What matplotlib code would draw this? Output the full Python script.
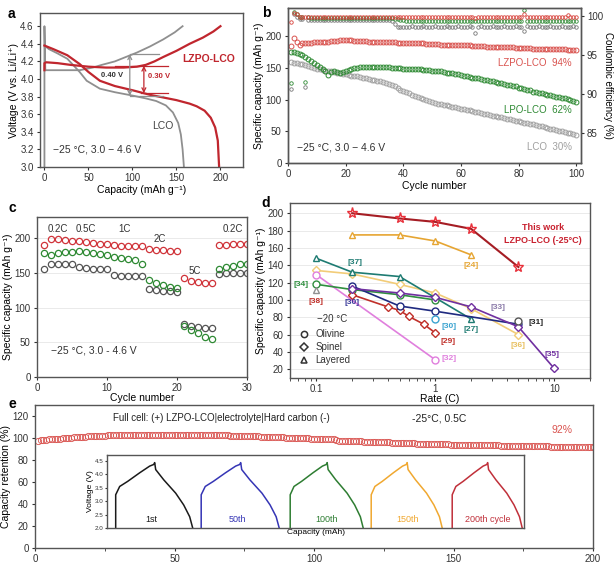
import matplotlib.pyplot as plt
import numpy as np

plt.rcParams['font.family'] = ['Liberation Sans', 'DejaVu Sans']
plt.rcParams['font.size'] = 7
plt.rcParams['axes.edgecolor'] = '#555555'
plt.rcParams['axes.linewidth'] = 1.0
plt.rcParams['xtick.major.size'] = 2.5
plt.rcParams['ytick.major.size'] = 2.5
plt.rcParams['xtick.major.pad'] = 2
plt.rcParams['ytick.major.pad'] = 2
plt.rcParams['xtick.color'] = '#333333'
plt.rcParams['ytick.color'] = '#333333'

RED = '#c0262e'
GREEN = '#2f8a34'
GRAY = '#8f8f8f'

# ---------------- panel a: voltage profiles ----------------
lco_chg_cap = [0, 0, 1, 10, 25, 40, 45, 55, 65, 80, 95, 105, 120, 135, 148, 157]
lco_chg_v = [3.0, 4.6, 4.1, 4.1, 4.1, 4.1, 4.11, 4.13, 4.16, 4.2, 4.26, 4.3, 4.37, 4.45, 4.53, 4.6]
lco_dis_cap = [0, 5, 15, 26, 40, 48, 63, 80, 101, 115, 127, 138, 146, 152, 155, 157, 158.5]
lco_dis_v = [4.38, 4.34, 4.29, 4.23, 4.08, 3.98, 3.89, 3.85, 3.81, 3.78, 3.75, 3.70, 3.62, 3.5, 3.37, 3.2, 3.0]
lzpo_chg_cap = [0, 0, 2, 15, 30, 50, 70, 90, 105, 115, 125, 135, 150, 165, 180, 192, 200]
lzpo_chg_v = [4.1, 4.18, 4.19, 4.18, 4.16, 4.14, 4.13, 4.13, 4.14, 4.16, 4.2, 4.25, 4.32, 4.4, 4.47, 4.54, 4.6]
lzpo_dis_cap = [0, 10, 26, 40, 50, 63, 80, 101, 120, 135, 150, 165, 173, 182, 189, 194, 197, 198, 198.5]
lzpo_dis_v = [4.38, 4.34, 4.27, 4.17, 4.08, 3.98, 3.92, 3.87, 3.82, 3.79, 3.76, 3.72, 3.69, 3.64, 3.56, 3.45, 3.3, 3.1, 3.0]

# ---------------- panel b: cycling ----------------
cycles_b = list(range(1, 101))
cap_lzpo = [185, 198, 191, 187, 189, 190, 190, 190, 191, 191,
            191, 192, 192, 192, 193, 193, 193, 194, 194, 194,
            194, 194, 193, 193, 193, 193, 193, 192, 192, 192,
            192, 192, 191, 191, 191, 191, 191, 190, 190, 190,
            190, 190, 189, 189, 189, 189, 189, 188, 188, 188,
            188, 188, 187, 187, 187, 187, 187, 186, 186, 186,
            186, 186, 186, 185, 185, 185, 185, 185, 184, 184,
            184, 184, 184, 183, 183, 183, 183, 183, 182, 182,
            182, 182, 182, 182, 181, 181, 181, 181, 181, 181,
            180, 180, 180, 180, 180, 180, 179, 179, 179, 179]
cap_lpo = [175, 176, 174, 172, 170, 168, 165, 161, 158, 155,
           152, 149, 145, 139, 144, 146, 144, 143, 144, 145,
           147, 149, 150, 150, 151, 151, 152, 152, 152, 152,
           152, 152, 151, 151, 151, 150, 150, 150, 150, 149,
           149, 149, 149, 148, 148, 148, 147, 147, 147, 146,
           146, 145, 145, 144, 143, 143, 142, 141, 140, 139,
           138, 137, 136, 135, 135, 134, 133, 132, 131, 130,
           129, 128, 127, 126, 125, 124, 123, 122, 121, 119,
           118, 117, 116, 115, 113, 112, 111, 110, 109, 108,
           107, 106, 105, 104, 103, 102, 101, 100, 98, 97]
cap_lco = [160, 158, 158, 157, 156, 155, 154, 152, 150, 149,
           148, 147, 146, 145, 145, 144, 143, 142, 141, 140,
           139, 138, 138, 137, 136, 135, 134, 133, 132, 131,
           130, 129, 128, 127, 125, 123, 121, 119, 116, 114,
           112, 110, 108, 106, 104, 102, 101, 99, 98, 96,
           95, 94, 93, 92, 91, 90, 89, 88, 87, 86,
           85, 84, 83, 82, 81, 80, 79, 78, 77, 76,
           75, 74, 73, 72, 71, 70, 69, 68, 67, 66,
           65, 64, 63, 62, 61, 60, 59, 58, 57, 56,
           54, 53, 52, 51, 50, 49, 48, 47, 46, 45]
ce_lzpo = [99.2, 100.4, 100.3, 99.9, 99.8, 99.9, 99.8, 99.8, 99.9, 99.8,
           99.8, 99.9, 99.8, 99.8, 99.9, 99.8, 99.8, 99.9, 99.8, 99.8,
           99.9, 99.8, 99.8, 99.9, 99.8, 99.8, 99.9, 99.8, 99.8, 99.9,
           99.8, 99.8, 99.9, 99.8, 99.8, 99.9, 99.8, 99.8, 99.9, 99.8,
           99.8, 99.9, 99.8, 99.8, 99.9, 99.8, 99.8, 99.9, 99.8, 99.8,
           99.9, 99.8, 99.8, 99.9, 99.8, 99.8, 99.9, 99.8, 99.8, 99.9,
           99.8, 99.8, 99.9, 99.8, 99.7, 99.9, 99.8, 99.8, 99.9, 99.8,
           99.8, 99.9, 99.8, 99.8, 99.9, 99.8, 99.8, 99.9, 99.8, 99.8,
           99.9, 100.3, 99.8, 99.9, 99.8, 99.8, 99.9, 99.8, 99.8, 99.9,
           99.8, 99.8, 99.9, 99.8, 99.8, 99.9, 100.1, 99.9, 99.8, 99.8]
ce_lpo = [91.4, 100.5, 100.3, 99.9, 99.8, 91.6, 99.8, 99.7, 99.7, 99.7,
          99.7, 99.7, 99.7, 99.7, 99.7, 99.7, 99.7, 99.7, 99.7, 99.7,
          99.7, 99.7, 99.7, 99.7, 99.7, 99.7, 99.7, 99.7, 99.7, 99.7,
          99.7, 99.7, 99.7, 99.7, 99.7, 99.7, 99.6, 99.6, 99.5, 99.5,
          99.4, 99.4, 99.4, 99.4, 99.4, 99.4, 99.4, 99.4, 99.4, 99.4,
          99.4, 99.4, 99.4, 99.4, 99.4, 99.4, 99.4, 99.4, 99.4, 99.4,
          99.4, 99.4, 99.4, 99.4, 99.4, 99.4, 99.4, 99.4, 99.4, 99.4,
          99.4, 99.4, 99.4, 99.4, 99.4, 99.4, 99.4, 99.4, 99.4, 99.4,
          99.4, 100.7, 99.4, 99.4, 99.4, 99.4, 99.4, 99.4, 99.4, 99.4,
          99.4, 99.4, 99.4, 99.4, 99.4, 99.4, 99.4, 99.4, 99.4, 99.4]
ce_lco = [90.6, 100.2, 99.9, 99.6, 99.6, 90.9, 99.5, 99.5, 99.5, 99.5,
          99.5, 99.5, 99.5, 99.5, 99.5, 99.5, 99.5, 99.5, 99.5, 99.5,
          99.5, 99.5, 99.5, 99.5, 99.5, 99.5, 99.5, 99.5, 99.5, 99.5,
          99.5, 99.5, 99.5, 99.5, 99.5, 99.4, 99.0, 98.6, 98.6, 98.6,
          98.6, 98.6, 98.7, 98.6, 98.6, 98.6, 98.7, 98.6, 98.6, 98.6,
          98.7, 98.6, 98.6, 98.6, 98.7, 98.6, 98.6, 98.6, 98.7, 98.6,
          98.6, 98.6, 98.7, 98.6, 97.8, 98.6, 98.7, 98.6, 98.6, 98.6,
          98.7, 98.6, 98.6, 98.6, 98.7, 98.6, 98.6, 98.6, 98.7, 98.6,
          98.6, 98.1, 98.7, 98.6, 98.6, 98.6, 98.7, 98.6, 98.6, 98.6,
          98.7, 98.6, 98.6, 98.6, 98.7, 98.6, 98.6, 98.6, 98.7, 98.6]

# ---------------- panel c: rate test ----------------
cycles_c = list(range(1, 31))
rate_lzpo = [190, 198, 198, 197, 196, 195, 194, 193, 192, 191,
             190, 189, 189, 188, 188, 184, 182, 182, 181, 181,
             142, 138, 136, 135, 135, 190, 190, 191, 191, 192]
rate_lpo = [178, 176, 178, 180, 180, 181, 180, 178, 177, 176,
            172, 171, 170, 168, 162, 140, 135, 132, 130, 128,
            74, 68, 63, 58, 55, 156, 158, 160, 162, 163]
rate_lco = [156, 162, 162, 162, 163, 158, 157, 156, 156, 155,
            147, 146, 145, 145, 145, 126, 125, 124, 124, 123,
            76, 73, 72, 71, 70, 148, 149, 149, 150, 150]
rate_names = ['0.2C', '0.5C', '1C', '2C', '5C', '0.2C']

# ---------------- panel d: comparison ----------------
work_rate = [0.2, 0.5, 1, 2, 5]
work_cap = [200, 194, 190, 182, 138]
ref24_rate = [0.2, 0.5, 1, 2]
ref24_cap = [175, 175, 168, 152]
ref37_rate = [0.1, 0.2, 0.5, 2]
ref37_cap = [148, 132, 127, 78]
ref36_rate = [0.1, 0.2, 0.5, 1, 2, 5]
ref36_cap = [134, 130, 118, 108, 90, 60]
ref34_rate = [0.1, 0.2, 0.5, 1]
ref34_cap = [118, 112, 106, 100]
ref32_rate = [0.1, 1]
ref32_cap = [129, 31]
ref29_rate = [0.2, 0.4, 0.5, 0.6, 0.8, 1]
ref29_cap = [106, 92, 88, 81, 72, 62]
ref30n_rate = [0.2, 0.5, 1, 5]
ref30n_cap = [116, 93, 87, 72]
ref35_rate = [0.2, 0.5, 1, 2, 5, 10]
ref35_cap = [113, 108, 103, 92, 69, 21]
ref31_rate = [5]
ref31_cap = [76]
ref30c_rate = [1]
ref30c_cap = [78]
ref38_rate = [0.1]
ref38_cap = [112]

# ---------------- panel e: full cell ----------------
cycles_e = list(range(1, 201))
retention = [97.5, 98.0, 98.3, 98.6, 98.8, 99.0, 99.2, 99.4, 99.6, 99.8,
             100.0, 100.2, 100.4, 100.6, 100.8, 101.0, 101.2, 101.4, 101.5, 101.7,
             101.8, 102.0, 102.1, 102.2, 102.3, 102.4, 102.5, 102.6, 102.7, 102.8,
             102.8, 102.9, 102.9, 103.0, 103.0, 103.0, 103.1, 103.1, 103.1, 103.1,
             103.2, 103.2, 103.2, 103.2, 103.2, 103.2, 103.2, 103.2, 103.2, 103.1,
             103.1, 103.1, 103.1, 103.1, 103.0, 103.0, 103.0, 102.9, 102.9, 102.9,
             102.8, 102.8, 102.7, 102.7, 102.6, 102.6, 102.5, 102.5, 102.4, 102.3,
             102.3, 102.2, 102.1, 102.0, 102.0, 101.9, 101.8, 101.7, 101.6, 101.5,
             101.4, 101.3, 101.2, 101.1, 101.0, 100.9, 100.8, 100.7, 100.6, 100.5,
             100.4, 100.3, 100.2, 100.1, 100.0, 99.9, 99.8, 99.7, 99.6, 99.5,
             99.4, 99.3, 99.2, 99.1, 99.0, 98.9, 98.8, 98.0, 97.8, 97.7,
             97.6, 97.5, 97.4, 97.3, 97.2, 97.1, 97.0, 96.9, 96.8, 96.7,
             96.6, 96.5, 96.4, 96.3, 96.2, 96.1, 96.0, 95.9, 95.8, 95.7,
             95.6, 95.5, 95.4, 95.3, 95.2, 95.1, 95.0, 94.9, 94.8, 94.7,
             94.6, 94.5, 94.4, 94.4, 94.3, 94.3, 94.2, 94.2, 94.1, 94.1,
             94.0, 94.0, 93.9, 93.9, 93.8, 93.8, 93.7, 93.7, 93.6, 93.6,
             93.5, 93.5, 93.4, 93.4, 93.3, 93.3, 93.2, 93.2, 93.1, 93.1,
             93.0, 93.0, 92.9, 92.9, 92.8, 92.8, 92.7, 92.7, 92.6, 92.6,
             92.5, 92.5, 92.4, 92.4, 92.3, 92.3, 92.2, 92.2, 92.1, 92.1,
             92.0, 92.0, 92.0, 92.0, 91.9, 91.9, 91.9, 91.9, 91.8, 91.8]

# inset: one charge/discharge profile (relative capacity, voltage) for each cycle
profile_cap = [0, 0, 4, 12, 24, 34, 38, 39, 40, 48, 60, 68, 74, 77]
profile_v = [2.0, 3.24, 3.55, 3.74, 4.06, 4.31, 4.37, 4.44, 4.18, 3.8, 3.3, 2.86, 2.42, 2.0]
inset_names = ['1st', '50th', '100th', '150th', '200th cycle']
inset_start = [8.5, 94, 183, 264, 345]
inset_width = [77, 78, 73, 71, 70]
inset_colors = ['#1a1a1a', '#3535b5', '#2e7d32', '#f0a830', '#c0303a']

fig = plt.figure(figsize=(6.16, 5.65), dpi=100)

# ======== a ========
ax = fig.add_axes([0.065, 0.7044, 0.33, 0.2726])
ax.plot(lco_chg_cap, lco_chg_v, color=GRAY, lw=1.3)
ax.plot(lco_dis_cap, lco_dis_v, color=GRAY, lw=1.3)
ax.plot(lzpo_chg_cap, lzpo_chg_v, color=RED, lw=1.6)
ax.plot(lzpo_dis_cap, lzpo_dis_v, color=RED, lw=1.6)
ax.plot([97, 130], [4.28, 4.28], color=GRAY, lw=0.9)
ax.plot([97, 135], [3.81, 3.81], color=GRAY, lw=0.9)
ax.annotate('', xy=(97, 3.81), xytext=(97, 4.28),
            arrowprops=dict(arrowstyle='<->', color=GRAY, lw=0.9, shrinkA=0, shrinkB=0))
ax.plot([80, 140], [4.15, 4.15], color=RED, lw=0.9)
ax.plot([110, 140], [3.84, 3.84], color=RED, lw=0.9)
ax.annotate('', xy=(113, 3.84), xytext=(113, 4.15),
            arrowprops=dict(arrowstyle='<->', color=RED, lw=0.9, shrinkA=0, shrinkB=0))
ax.text(77, 4.04, '0.40 V', fontsize=5.5, fontweight='bold', color='#333333', ha='center', va='center')
ax.text(130, 4.03, '0.30 V', fontsize=5.5, fontweight='bold', color=RED, ha='center', va='center')
ax.text(187, 4.23, 'LZPO-LCO', fontsize=7.5, fontweight='bold', color=RED, ha='center', va='center')
ax.text(134, 3.47, 'LCO', fontsize=7.5, color='#444444', ha='center', va='center')
ax.text(10, 3.2, '−25 °C, 3.0 − 4.6 V', fontsize=7.5, color='#333333', va='center')
ax.set_xlim(-5, 226)
ax.set_ylim(3.0, 4.75)
ax.set_xticks([0, 50, 100, 150, 200])
ax.set_yticks(np.arange(3.0, 4.61, 0.2))
ax.set_yticklabels(['%.1f' % v for v in np.arange(3.0, 4.61, 0.2)])
ax.set_xlabel('Capacity (mAh g⁻¹)', fontsize=7.5, labelpad=1)
ax.set_ylabel('Voltage (V vs. Li/Li⁺)', fontsize=7.5, labelpad=1)
fig.text(0.013, 0.975, 'a', fontsize=10, fontweight='bold', va='center')

# ======== b ========
ax = fig.add_axes([0.4675, 0.7115, 0.475, 0.2743])
ax2 = ax.twinx()
ax2.plot(cycles_b, ce_lco, 'o', ms=2.5, mfc='none', mec='#777777', mew=0.6)
ax2.plot(cycles_b, ce_lpo, 'o', ms=2.5, mfc='none', mec=GREEN, mew=0.6)
ax2.plot(cycles_b, ce_lzpo, 'o', ms=2.5, mfc='none', mec='#d8403a', mew=0.6)
ax2.set_ylim(81.2, 101)
ax2.set_yticks([85, 90, 95, 100])
ax2.set_ylabel('Coulombic efficiency (%)', fontsize=7, rotation=270, labelpad=7)
ax.plot(cycles_b, cap_lco, 'o', ms=3.5, mfc='none', mec='#a0a0a0', mew=0.7)
ax.plot(cycles_b, cap_lpo, 'o', ms=3.5, mfc='none', mec=GREEN, mew=0.7)
ax.plot(cycles_b, cap_lzpo, 'o', ms=3.5, mfc='none', mec='#d9534f', mew=0.7)
ax.text(98.5, 158, 'LZPO-LCO  94%', fontsize=7, color='#d9534f', ha='right', va='center')
ax.text(98.5, 84, 'LPO-LCO  62%', fontsize=7, color=GREEN, ha='right', va='center')
ax.text(98.5, 25, 'LCO  30%', fontsize=7, color='#a0a0a0', ha='right', va='center')
ax.text(3, 25, '−25 °C, 3.0 − 4.6 V', fontsize=7.5, color='#333333', va='center')
ax.set_xlim(0, 101.5)
ax.set_ylim(0, 245)
ax.set_xticks([0, 20, 40, 60, 80, 100])
ax.set_yticks([0, 50, 100, 150, 200])
ax.set_xlabel('Cycle number', fontsize=7.5, labelpad=1)
ax.set_ylabel('Specific capacity (mAh g⁻¹)', fontsize=7.5, labelpad=1)
fig.text(0.425, 0.977, 'b', fontsize=10, fontweight='bold', va='center')

# ======== c ========
ax = fig.add_axes([0.06, 0.3327, 0.341, 0.283])
ax.yaxis.grid(True, color='#e6e6e6', lw=0.6)
ax.set_axisbelow(True)
ax.plot(cycles_c, rate_lco, 'o', ms=4.5, mfc='none', mec='#555555', mew=0.9)
ax.plot(cycles_c, rate_lpo, 'o', ms=4.5, mfc='none', mec=GREEN, mew=0.9)
ax.plot(cycles_c, rate_lzpo, 'o', ms=4.5, mfc='none', mec='#d0343a', mew=0.9)
for name, xpos, ypos in zip(rate_names, [3, 7, 12.5, 17.5, 22.5, 28], [213, 213, 213, 199, 153, 213]):
    ax.text(xpos, ypos, name, fontsize=7, color='#333333', ha='center', va='center')
ax.text(2, 38, '−25 °C, 3.0 - 4.6 V', fontsize=7.5, color='#333333', va='center')
ax.set_xlim(0, 30)
ax.set_ylim(0, 230)
ax.set_xticks([0, 10, 20, 30])
ax.set_yticks([0, 50, 100, 150, 200])
ax.set_xlabel('Cycle number', fontsize=7.5, labelpad=0)
ax.set_ylabel('Specific capacity (mAh g⁻¹)', fontsize=7.5, labelpad=1)
fig.text(0.013, 0.632, 'c', fontsize=10, fontweight='bold', va='center')

# ======== d ========
ax = fig.add_axes([0.4708, 0.331, 0.487, 0.31])
ax.yaxis.grid(True, color='#e6e6e6', lw=0.6)
ax.set_axisbelow(True)
refs = [
    (ref36_rate, ref36_cap, '#f2cc78', 'D'),
    (ref32_rate, ref32_cap, '#e07fdd', 'o'),
    (ref37_rate, ref37_cap, '#1e7b72', '^'),
    (ref34_rate, ref34_cap, '#2f8f3f', 'o'),
    (ref29_rate, ref29_cap, '#c0302a', 'D'),
    (ref30n_rate, ref30n_cap, '#1f2a80', 'o'),
    (ref35_rate, ref35_cap, '#7030a0', 'D'),
    (ref24_rate, ref24_cap, '#e6a532', '^'),
    (ref31_rate, ref31_cap, '#555555', 'o'),
    (ref30c_rate, ref30c_cap, '#3aa3d0', 'o'),
    (ref38_rate, ref38_cap, '#909090', '^'),
]
for r, c, col, m in refs:
    ax.plot(r, c, '-', color=col, lw=1.2, marker=m, ms=5 if m != 'D' else 4.2,
            mfc='white', mec=col, mew=1.0)
ax.plot(work_rate, work_cap, '-', color='#a51d24', lw=1.5, marker='*', ms=8,
        mfc='none', mec='#e8303a', mew=1.0)
labels_d = [
    ('[37]', 0.21, 143, '#1e7b72'), ('[24]', 2.0, 140, '#e6a532'),
    ('[34]', 0.074, 118, '#2f8f3f'), ('[38]', 0.1, 98, '#c0302a'),
    ('[30]', 0.2, 97, '#3a3a9a'), ('[30]', 1.3, 69, '#3aa3d0'),
    ('[29]', 1.28, 52, '#c0302a'), ('[32]', 1.3, 33, '#e07fdd'),
    ('[27]', 2.0, 66, '#1e7b72'), ('[33]', 3.4, 91, '#8a7aa8'),
    ('[31]', 7.0, 74, '#222222'), ('[36]', 5.0, 48, '#e8c060'),
    ('[35]', 9.5, 37, '#7030a0'),
]
for t, xv, yv, col in labels_d:
    ax.text(xv, yv, t, fontsize=6, fontweight='bold', color=col, ha='center', va='center')
ax.text(8.0, 184, 'This work', fontsize=6.5, fontweight='bold', color='#c8202e', ha='center', va='center')
ax.text(8.0, 168, 'LZPO-LCO (-25°C)', fontsize=6.5, fontweight='bold', color='#c8202e', ha='center', va='center')
ax.text(0.102, 78, '−20 °C', fontsize=7, color='#333333', va='center')
for m, yv, name in zip(['o', 'D', '^'], [61, 46, 31], ['Olivine', 'Spinel', 'Layered']):
    ax.plot([0.078], [yv], marker=m, ms=4.5 if m != 'D' else 3.8, mfc='white', mec='#333333', mew=1.1)
    ax.text(0.098, yv, name, fontsize=7, color='#333333', va='center')
ax.set_xscale('log')
ax.set_xlim(0.06, 20)
ax.set_ylim(10, 212)
ax.set_yticks(np.arange(20, 201, 20))
ax.set_xticks([0.1, 1, 10])
ax.set_xticklabels(['0.1', '1', '10'])
ax.set_xlabel('Rate (C)', fontsize=7.5, labelpad=0)
ax.set_ylabel('Specific capacity (mAh g⁻¹)', fontsize=7.5, labelpad=1)
fig.text(0.425, 0.64, 'd', fontsize=10, fontweight='bold', va='center')

# ======== e ========
ax = fig.add_axes([0.0568, 0.030, 0.906, 0.253])
ax.plot(cycles_e, retention, 'o', ms=4.5, mfc='none', mec='#d9534f', mew=0.6)
ax.text(28, 118, 'Full cell: (+) LZPO-LCO|electrolyte|Hard carbon (-)', fontsize=7, color='#222222', va='center')
ax.text(135, 118, '-25°C, 0.5C', fontsize=7.5, color='#222222', va='center')
ax.text(189, 107, '92%', fontsize=7.5, color='#d9534f', ha='center', va='center')
ax.set_xlim(0, 200)
ax.set_ylim(0, 130)
ax.set_xticks([0, 50, 100, 150, 200])
ax.set_xticks([25, 75, 125, 175], minor=True)
ax.set_yticks(np.arange(0, 121, 20))
ax.set_ylabel('Capacity retention (%)', fontsize=7.5, labelpad=1)
fig.text(0.013, 0.285, 'e', fontsize=10, fontweight='bold', va='center')

ins = fig.add_axes([0.174, 0.0655, 0.677, 0.129])
for name, s, w, col in zip(inset_names, inset_start, inset_width, inset_colors):
    xs = [s + p * w / profile_cap[-1] for p in profile_cap]
    ins.plot(xs, profile_v, color=col, lw=1.1)
    ins.text(s + 36, 2.3, name, fontsize=6.5, color=col, ha='center', va='center')
ins.set_xlim(0, 417)
ins.set_ylim(2.0, 4.72)
ins.set_yticks([2.0, 2.5, 3.0, 3.5, 4.0, 4.5])
ins.set_yticklabels(['2.0', '2.5', '3.0', '3.5', '4.0', '4.5'], fontsize=4.5)
ins.tick_params(axis='y', length=1.5, pad=1)
ins.set_xticks([])
ins.set_xlabel('Capacity (mAh)', fontsize=6, labelpad=1)
ins.set_ylabel('Voltage (V)', fontsize=6, labelpad=1)

fig.savefig('out.png', dpi=100)
